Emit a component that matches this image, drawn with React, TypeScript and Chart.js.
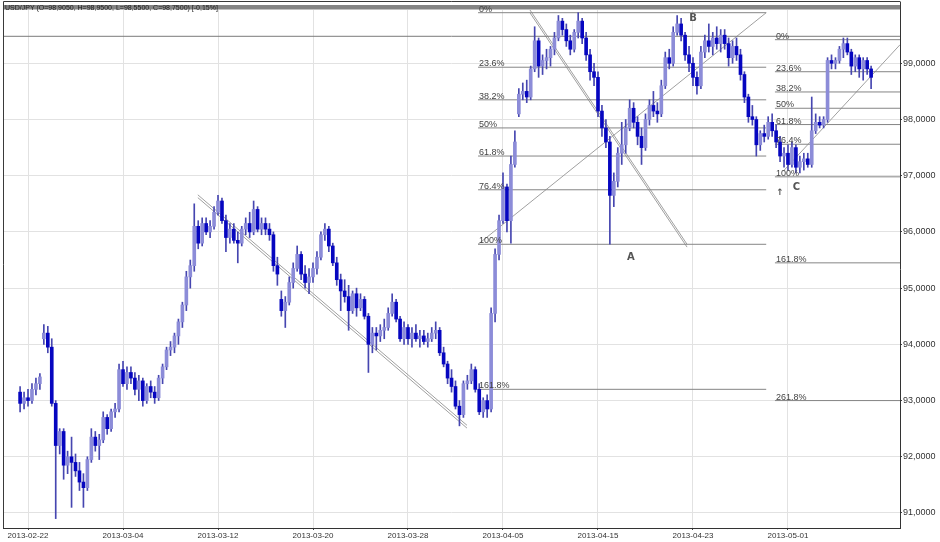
import React, { useEffect, useRef } from 'react';
import { Chart, registerables } from 'chart.js';

Chart.register(...registerables);

// ---- price data: 4 bars per trading day, bar index 0 = start of 2013-02-22 ----
const FIRST_BAR = -2;

const OPEN = [
  93.15, 92.95,
  93.05, 93.00, 93.20, 93.30,
  94.10, 94.20, 93.95, 92.95,
  92.20, 92.45, 91.85, 92.00,
  91.90, 91.75, 91.55, 91.45,
  91.95, 92.35, 92.20, 92.30,
  92.70, 92.50, 92.80, 92.85,
  93.55, 93.30, 93.50, 93.40,
  93.20, 93.35, 93.00, 93.25,
  93.15, 93.05, 93.40, 93.60,
  93.90, 93.95, 94.15, 94.40,
  94.70, 95.20, 95.40, 96.10,
  95.80, 96.15, 96.00, 96.10,
  96.35, 96.55, 96.20, 95.90,
  96.05, 95.85, 95.80, 96.05,
  96.15, 96.00, 96.40, 96.05,
  96.15, 96.05, 95.95, 95.40,
  94.80, 94.60, 94.75, 95.10,
  95.35, 95.60, 95.25, 95.10,
  95.20, 95.35, 95.55, 95.95,
  96.05, 95.75, 95.45, 95.15,
  94.95, 94.85, 94.60, 94.90,
  94.65, 94.80, 94.50, 94.00,
  94.20, 94.15, 94.25, 94.30,
  94.55, 94.75, 94.45, 94.10,
  94.30, 94.10, 94.20, 94.10,
  94.15, 94.05, 94.10, 94.20,
  94.25, 93.85, 93.65, 93.40,
  93.25, 92.90, 92.75, 93.30,
  93.35, 93.55, 93.20, 92.80,
  93.00, 92.85, 94.55, 95.60,
  96.20, 96.80, 96.20, 97.20,
  98.10, 98.45, 98.50, 98.40,
  98.90, 99.40, 98.95, 99.05,
  99.10, 99.25, 99.45, 99.75,
  99.60, 99.40, 99.25, 99.55,
  99.75, 99.45, 99.15, 98.85,
  98.75, 98.15, 97.85, 97.60,
  96.65, 96.90, 97.40, 97.55,
  97.85, 98.20, 97.95, 97.70,
  97.50, 98.00, 98.25, 98.15,
  98.10, 98.60, 99.10, 99.00,
  99.55, 99.70, 99.50, 99.15,
  99.00, 98.75, 98.60, 99.20,
  99.40, 99.30, 99.45, 99.35,
  99.50, 99.35, 99.10, 99.30,
  99.15, 98.80, 98.40, 98.05,
  98.00, 97.55, 97.75, 97.70,
  97.95, 97.80, 97.60, 97.35,
  97.40, 97.20, 97.50, 97.15,
  97.25, 97.30, 97.20, 97.80,
  97.95, 97.90, 98.00, 99.05,
  99.00, 99.05, 99.25, 99.35,
  99.20, 98.95, 99.10, 98.90,
  99.05, 98.90,
];

const HIGH = [
  93.25, 93.15,
  93.20, 93.30, 93.40, 93.48,
  94.35, 94.32, 94.10, 93.00,
  92.50, 92.50, 92.10, 92.35,
  92.05, 91.90, 91.70, 92.00,
  92.50, 92.45, 92.40, 92.80,
  92.75, 92.85, 92.95, 93.65,
  93.70, 93.60, 93.60, 93.50,
  93.45, 93.40, 93.30, 93.35,
  93.25, 93.45, 93.65, 93.95,
  94.05, 94.20, 94.45, 94.75,
  95.30, 95.50, 96.50, 96.20,
  96.25, 96.25, 96.20, 96.45,
  96.65, 96.60, 96.30, 96.15,
  96.15, 96.00, 96.10, 96.25,
  96.35, 96.55, 96.45, 96.25,
  96.25, 96.15, 96.00, 95.55,
  94.95, 94.85, 95.20, 95.45,
  95.75, 95.65, 95.40, 95.35,
  95.45, 95.65, 96.00, 96.15,
  96.10, 95.80, 95.55, 95.25,
  95.15, 95.05, 94.95, 95.00,
  94.90, 94.85, 94.55, 94.30,
  94.30, 94.35, 94.45, 94.65,
  94.90, 94.80, 94.50, 94.40,
  94.35, 94.30, 94.35, 94.25,
  94.25, 94.20, 94.30, 94.40,
  94.30, 93.95, 93.70, 93.55,
  93.35, 93.00, 93.35, 93.45,
  93.65, 93.60, 93.30, 93.05,
  93.10, 94.65, 95.70, 96.30,
  97.05, 96.85, 97.35, 97.80,
  98.55, 98.65, 98.70, 98.95,
  99.65, 99.45, 99.15, 99.25,
  99.30, 99.55, 99.85, 99.80,
  99.70, 99.50, 99.60, 99.90,
  99.80, 99.55, 99.25, 99.00,
  98.85, 98.25, 98.00, 97.70,
  97.05, 97.50, 97.95, 98.00,
  98.35, 98.30, 98.05, 97.85,
  98.10, 98.35, 98.50, 98.30,
  98.70, 99.20, 99.25, 99.65,
  99.85, 99.80, 99.55, 99.30,
  99.10, 98.85, 99.30, 99.50,
  99.70, 99.55, 99.65, 99.60,
  99.60, 99.45, 99.40, 99.45,
  99.25, 98.85, 98.45, 98.25,
  98.05, 97.80, 97.90, 98.05,
  98.10, 97.90, 97.70, 97.50,
  97.55, 97.60, 97.55, 97.35,
  97.40, 97.40, 98.40, 98.10,
  98.05, 98.05, 99.10, 99.15,
  99.10, 99.30, 99.45, 99.45,
  99.25, 99.15, 99.15, 99.10,
  99.10, 98.95,
];

const LOW = [
  92.80, 92.85,
  92.90, 92.95, 93.10, 93.20,
  94.00, 93.85, 92.90, 90.90,
  92.05, 91.60, 91.70, 91.10,
  91.65, 91.40, 91.10, 91.40,
  91.90, 92.10, 91.95, 92.25,
  92.40, 92.45, 92.70, 92.80,
  93.25, 93.20, 93.30, 93.10,
  93.00, 92.90, 92.95, 93.05,
  92.95, 93.00, 93.30, 93.55,
  93.80, 93.85, 94.00, 94.30,
  94.60, 95.00, 95.30, 95.70,
  95.75, 95.95, 95.90, 96.05,
  96.30, 96.15, 95.65, 95.80,
  95.80, 95.45, 95.75, 95.95,
  95.90, 95.95, 96.00, 95.95,
  95.95, 95.85, 95.30, 95.05,
  94.50, 94.30, 94.70, 95.00,
  95.30, 95.15, 95.00, 94.90,
  95.10, 95.25, 95.50, 95.85,
  95.65, 95.40, 95.05, 94.60,
  94.75, 94.25, 94.55, 94.50,
  94.60, 94.45, 93.50, 93.85,
  93.90, 94.05, 94.10, 94.25,
  94.50, 94.40, 94.05, 94.00,
  94.00, 93.95, 94.05, 93.95,
  94.00, 93.95, 94.05, 94.10,
  93.80, 93.60, 93.30, 93.15,
  92.85, 92.55, 92.70, 93.20,
  93.30, 93.15, 92.75, 92.70,
  92.70, 92.80, 94.40, 95.50,
  96.15, 96.00, 95.80, 97.15,
  98.05, 98.35, 98.30, 98.35,
  98.85, 98.75, 98.80, 98.90,
  98.95, 99.15, 99.40, 99.50,
  99.30, 99.15, 99.20, 99.45,
  99.35, 99.05, 98.70, 98.60,
  98.05, 97.70, 97.50, 95.78,
  96.45, 96.80, 97.20, 97.40,
  97.80, 97.85, 97.55, 97.20,
  97.45, 97.90, 98.05, 97.95,
  98.05, 98.55, 98.90, 98.95,
  99.50, 99.40, 99.05, 98.85,
  98.60, 98.45, 98.55, 99.10,
  99.20, 99.15, 99.25, 99.20,
  99.25, 98.95, 99.00, 99.05,
  98.70, 98.30, 97.95, 97.90,
  97.35, 97.45, 97.60, 97.65,
  97.70, 97.50, 97.25, 97.15,
  97.10, 97.15, 97.05, 97.05,
  97.10, 97.15, 97.15, 97.75,
  97.85, 97.85, 97.95, 98.90,
  98.90, 99.00, 99.10, 99.15,
  98.80, 98.85, 98.75, 98.70,
  98.80, 98.55,
];

const CLOSE = [
  92.95, 93.05,
  93.00, 93.20, 93.30, 93.42,
  94.20, 93.95, 92.95, 92.20,
  92.45, 91.85, 92.00, 91.90,
  91.75, 91.55, 91.45, 91.95,
  92.35, 92.20, 92.30, 92.70,
  92.50, 92.80, 92.85, 93.55,
  93.30, 93.50, 93.40, 93.20,
  93.35, 93.00, 93.25, 93.15,
  93.05, 93.40, 93.60, 93.90,
  93.95, 94.15, 94.40, 94.70,
  95.20, 95.40, 96.10, 95.80,
  96.15, 96.00, 96.10, 96.35,
  96.55, 96.20, 95.90, 96.05,
  95.85, 95.80, 96.05, 96.15,
  96.00, 96.40, 96.05, 96.15,
  96.05, 95.95, 95.40, 95.25,
  94.60, 94.75, 95.10, 95.35,
  95.60, 95.25, 95.10, 95.20,
  95.35, 95.55, 95.95, 96.05,
  95.75, 95.45, 95.15, 94.95,
  94.85, 94.60, 94.90, 94.65,
  94.80, 94.50, 94.00, 94.20,
  94.15, 94.25, 94.30, 94.55,
  94.75, 94.45, 94.10, 94.30,
  94.10, 94.20, 94.10, 94.15,
  94.05, 94.10, 94.20, 94.25,
  93.85, 93.65, 93.40, 93.25,
  92.90, 92.75, 93.30, 93.35,
  93.55, 93.20, 92.80, 93.00,
  92.85, 94.55, 95.60, 96.20,
  96.80, 96.20, 97.20, 97.60,
  98.45, 98.50, 98.40, 98.90,
  99.40, 98.95, 99.05, 99.10,
  99.25, 99.45, 99.75, 99.60,
  99.40, 99.25, 99.55, 99.75,
  99.45, 99.15, 98.85, 98.75,
  98.15, 97.85, 97.60, 96.65,
  96.90, 97.40, 97.55, 97.85,
  98.20, 97.95, 97.70, 97.50,
  98.00, 98.25, 98.15, 98.10,
  98.60, 99.10, 99.00, 99.55,
  99.70, 99.50, 99.15, 99.00,
  98.75, 98.60, 99.20, 99.40,
  99.30, 99.45, 99.35, 99.50,
  99.35, 99.10, 99.30, 99.15,
  98.80, 98.40, 98.05, 98.00,
  97.55, 97.75, 97.70, 97.95,
  97.80, 97.60, 97.35, 97.40,
  97.20, 97.50, 97.15, 97.25,
  97.30, 97.20, 97.80, 97.95,
  97.90, 98.00, 99.05, 99.00,
  99.05, 99.25, 99.35, 99.20,
  98.95, 99.10, 98.90, 99.05,
  98.90, 98.75,
];

// ---- axes ----
const X_MIN = -6.32;
const X_MAX = 220.3;
const TICK_POS = [0, 24, 48, 72, 96, 120, 144, 168, 192];
const TICK_LABELS = [
  '2013-02-22', '2013-03-04', '2013-03-12', '2013-03-20', '2013-03-28',
  '2013-04-05', '2013-04-15', '2013-04-23', '2013-05-01',
];
const Y_MIN = 90.733;
const Y_MAX = 99.948;
const Y_TICKS = [91, 92, 93, 94, 95, 96, 97, 98, 99];

const TITLE = 'USD/JPY (O=98,9050, H=98,9500, L=98,5500, C=98,7500) [-0,15%]';

// ---- drawing tools (price / bar-index coordinates) ----
const FIB_MID_RANGE = [113.7, 186.5];
const FIB_MID_LEVELS = [99.9, 98.93, 98.35, 97.85, 97.35, 96.75, 95.78, 93.2];
const FIB_MID_LABELS = ['0%', '23.6%', '38.2%', '50%', '61.8%', '76.4%', '100%', '161.8%'];

const FIB_R_RANGE = [188.7, 220.3];
const FIB_R_LEVELS = [99.42, 98.85, 98.49, 98.2, 97.91, 97.56, 96.98, 95.45, 93.0];
const FIB_R_LABELS = ['0%', '23.6%', '38.2%', '50%', '61.8%', '76.4%', '100%', '161.8%', '261.8%'];

const H_LINE = 99.48;

// trend lines: start / end points and whether drawn as a double line
const TREND_X1 = [42.9, 126.8, 113.7, 190.8];
const TREND_Y1 = [96.66, 99.95, 95.78, 97.08];
const TREND_X2 = [110.9, 166.5, 186.5, 220.3];
const TREND_Y2 = [92.56, 95.78, 99.9, 99.33];
const TREND_DOUBLE = [true, true, false, false];

const MARK_TEXT = ['A', 'B', 'C', '\u2191'];
const MARK_X = [152.3, 168.0, 194.1, 190.0];
const MARK_Y = [95.55, 99.8, 96.8, 96.7];

const UP_COLOR = '#8c8cd8';
const DOWN_COLOR = '#0606c0';
const WICK_COLOR = '#4646b0';
const FIB_COLOR = '#858585';
const TREND_COLOR = '#a0a0a0';
const GRID = '#e2e2e2';

function lineDataset(pts: { x: number; y: number }[], color: string) {
  return {
    type: 'line' as const,
    data: pts,
    borderColor: color,
    borderWidth: 1,
    pointRadius: 0,
    fill: false,
    tension: 0,
    order: 3,
  };
}

const overlayPlugin = {
  id: 'overlay',
  afterDraw(chart: any) {
    const { ctx, scales, chartArea } = chart;
    const xs = scales.x;
    const ys = scales.y;
    ctx.save();
    // header strip and frame
    ctx.fillStyle = '#858585';
    ctx.fillRect(chartArea.left, 5, chartArea.right - chartArea.left, 4.5);
    ctx.strokeStyle = '#3a3a3a';
    ctx.lineWidth = 1;
    ctx.beginPath();
    ctx.moveTo(chartArea.left + 0.5, 1.5);
    ctx.lineTo(chartArea.right, 1.5);
    ctx.moveTo(chartArea.left + 0.5, 1.5);
    ctx.lineTo(chartArea.left + 0.5, chartArea.bottom);
    ctx.moveTo(chartArea.right + 0.5, 1.5);
    ctx.lineTo(chartArea.right + 0.5, chartArea.top);
    ctx.stroke();
    ctx.font = '7px "Liberation Sans"';
    ctx.fillStyle = '#222';
    ctx.textBaseline = 'alphabetic';
    ctx.textAlign = 'left';
    ctx.fillText(TITLE, chartArea.left + 2, 9.5);

    // fib labels
    ctx.font = '9px "Liberation Sans"';
    ctx.fillStyle = '#444';
    FIB_MID_LEVELS.forEach((v, k) => {
      ctx.fillText(FIB_MID_LABELS[k], xs.getPixelForValue(FIB_MID_RANGE[0]) + 1, ys.getPixelForValue(v) - 1);
    });
    FIB_R_LEVELS.forEach((v, k) => {
      ctx.fillText(FIB_R_LABELS[k], xs.getPixelForValue(FIB_R_RANGE[0]) + 1, ys.getPixelForValue(v) - 1);
    });

    // point marks
    ctx.textAlign = 'center';
    ctx.textBaseline = 'middle';
    MARK_TEXT.forEach((t, k) => {
      ctx.font = k < 3 ? 'bold 10px "DejaVu Sans"' : 'bold 9px "DejaVu Sans"';
      ctx.fillStyle = '#555';
      ctx.fillText(t, xs.getPixelForValue(MARK_X[k]), ys.getPixelForValue(MARK_Y[k]));
    });
    ctx.restore();
  },
};

export default function App() {
  const ref = useRef<HTMLCanvasElement | null>(null);

  useEffect(() => {
    if (!ref.current) return;
    const xs = OPEN.map((_, k) => FIRST_BAR + k);
    const bodies = OPEN.map((o, k) => ({ x: xs[k], y: [o, CLOSE[k]] }));
    const wicks = OPEN.map((_, k) => ({ x: xs[k], y: [LOW[k], HIGH[k]] }));
    const bodyColors = OPEN.map((o, k) => (CLOSE[k] >= o ? UP_COLOR : DOWN_COLOR));

    const lines: any[] = [];
    FIB_MID_LEVELS.forEach((v) =>
      lines.push(lineDataset([{ x: FIB_MID_RANGE[0], y: v }, { x: FIB_MID_RANGE[1], y: v }], FIB_COLOR)),
    );
    FIB_R_LEVELS.forEach((v) =>
      lines.push(lineDataset([{ x: FIB_R_RANGE[0], y: v }, { x: FIB_R_RANGE[1], y: v }], FIB_COLOR)),
    );
    lines.push(lineDataset([{ x: X_MIN, y: H_LINE }, { x: X_MAX, y: H_LINE }], '#7a7a7a'));
    TREND_X1.forEach((x1, k) => {
      lines.push(lineDataset([{ x: x1, y: TREND_Y1[k] }, { x: TREND_X2[k], y: TREND_Y2[k] }], TREND_COLOR));
      if (TREND_DOUBLE[k]) {
        lines.push(
          lineDataset([{ x: x1, y: TREND_Y1[k] - 0.05 }, { x: TREND_X2[k], y: TREND_Y2[k] - 0.05 }], TREND_COLOR),
        );
      }
    });

    const chart = new Chart(ref.current, {
      type: 'bar',
      data: {
        datasets: [
          {
            type: 'bar',
            data: bodies as any,
            backgroundColor: bodyColors,
            borderWidth: 0,
            barThickness: 3,
            grouped: false,
            minBarLength: 1,
            order: 0,
          },
          {
            type: 'bar',
            data: wicks as any,
            backgroundColor: WICK_COLOR,
            borderWidth: 0,
            barThickness: 1,
            grouped: false,
            order: 1,
          },
          ...lines,
        ],
      },
      options: {
        animation: false,
        responsive: false,
        events: [],
        layout: { padding: { left: 3, top: 10, right: 0, bottom: 0 } },
        plugins: {
          legend: { display: false },
          tooltip: { enabled: false },
          title: { display: false },
        },
        scales: {
          x: {
            type: 'linear',
            position: 'bottom',
            min: X_MIN,
            max: X_MAX,
            offset: false,
            afterBuildTicks: (s: any) => {
              s.ticks = TICK_POS.map((v) => ({ value: v }));
            },
            afterFit: (s: any) => {
              s.height = 14;
            },
            ticks: {
              autoSkip: false,
              maxRotation: 0,
              padding: 1,
              color: '#333',
              font: { family: 'Liberation Sans', size: 8 },
              callback: (_v: any, i: number) => TICK_LABELS[i],
            },
            grid: { color: GRID, offset: false, tickLength: 2, tickColor: '#444' },
            border: { color: '#333', width: 1 },
          },
          y: {
            type: 'linear',
            position: 'right',
            min: Y_MIN,
            max: Y_MAX,
            afterBuildTicks: (s: any) => {
              s.ticks = Y_TICKS.map((v) => ({ value: v }));
            },
            afterFit: (s: any) => {
              s.width = 40;
            },
            ticks: {
              padding: 1,
              color: '#333',
              font: { family: 'Liberation Sans', size: 9 },
              callback: (v: any) => Number(v).toFixed(4).replace('.', ','),
            },
            grid: { color: GRID, tickLength: 2, tickColor: '#444' },
            border: { color: '#333', width: 1 },
          },
        },
      } as any,
      plugins: [overlayPlugin],
    });
    return () => chart.destroy();
  }, []);

  return (
    <div style={{ position: 'absolute', left: 0, top: 0, width: 940, height: 542, background: '#fff' }}>
      <canvas ref={ref} width={940} height={542} style={{ display: 'block' }} />
    </div>
  );
}
